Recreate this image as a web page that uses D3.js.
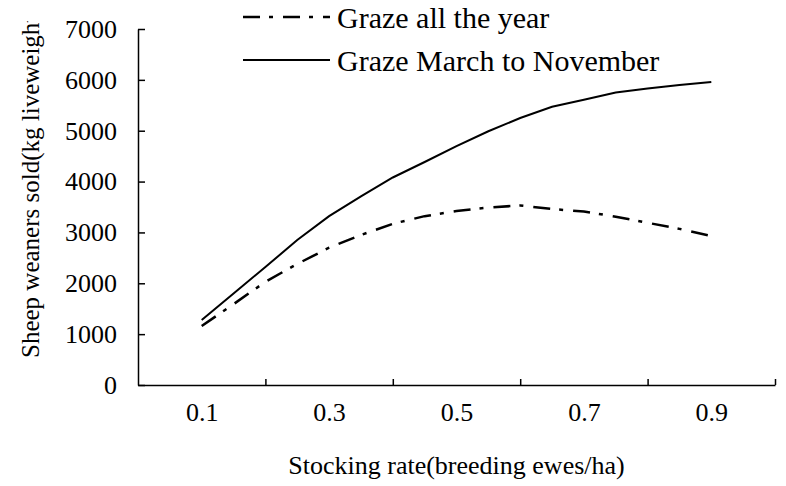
<!DOCTYPE html>
<html lang="en">
<head>
<meta charset="UTF-8">
<title>Sheep weaners sold</title>
<script src="https://cdn.jsdelivr.net/npm/d3@7"></script>
<style>
	body {
		margin: 0;
		background-color: #ffffff;
	}
	svg text {
		font-family: "Liberation Serif", "Times New Roman", serif;
		fill: #000;
	}
	.axis path, .axis line {
		stroke: #000;
		stroke-width: 1.5;
	}
</style>
</head>
<body>
<div id="chart"></div>
<script>
	// stocking rate (breeding ewes/ha)
	var rates = [0.1, 0.15, 0.2, 0.25, 0.3, 0.35, 0.4, 0.45, 0.5, 0.55, 0.6, 0.65, 0.7, 0.75, 0.8, 0.85, 0.9];
	// kg liveweight sold
	var grazeAllYear = [1160, 1590, 2030, 2380, 2700, 2950, 3170, 3320, 3420, 3490, 3530, 3460, 3410, 3310, 3190, 3070, 2930];
	var grazeMarNov = [1280, 1800, 2320, 2850, 3320, 3710, 4080, 4385, 4695, 4990, 5250, 5470, 5610, 5750, 5830, 5900, 5960];

	var seriesNames = ['Graze all the year', 'Graze March to November'];
	var xLabels = [0.1, 0.3, 0.5, 0.7, 0.9];
	var xTicks = [0.2, 0.4, 0.6, 0.8, 1.0];
	var yTicks = [0, 1000, 2000, 3000, 4000, 5000, 6000, 7000];

	var W = 786, H = 486;
	var margin = {top: 29, right: 11, bottom: 101, left: 138};

	var svg = d3.select('#chart').append('svg')
		.attr('width', W)
		.attr('height', H);

	var x = d3.scaleLinear()
		.domain([0, 1])
		.range([margin.left, W - margin.right]);

	var y = d3.scaleLinear()
		.domain([0, 7000])
		.range([H - margin.bottom, margin.top]);

	// y axis, ticks pointing inside
	svg.append('g')
		.attr('class', 'axis')
		.attr('transform', 'translate(' + margin.left + ',0)')
		.call(d3.axisLeft(y)
			.tickValues(yTicks)
			.tickSizeInner(-7)
			.tickSizeOuter(0)
			.tickPadding(21)
			.tickFormat(d3.format('d')))
		.selectAll('text')
		.style('font-size', '26px');

	// x axis line + inner ticks
	svg.append('g')
		.attr('class', 'axis')
		.attr('transform', 'translate(0,' + (H - margin.bottom) + ')')
		.call(d3.axisBottom(x)
			.tickValues(xTicks)
			.tickSizeInner(-6)
			.tickSizeOuter(0)
			.tickFormat(''));

	// x labels sit between the tick marks
	var xl = svg.append('g')
		.attr('class', 'axis')
		.attr('transform', 'translate(0,' + (H - margin.bottom) + ')')
		.call(d3.axisBottom(x)
			.tickValues(xLabels)
			.tickSize(0)
			.tickPadding(18)
			.tickFormat(d3.format('.1f')));
	xl.select('.domain').remove();
	xl.selectAll('text').style('font-size', '26px');

	// axis titles
	svg.append('text')
		.attr('x', (x.range()[0] + x.range()[1]) / 2)
		.attr('y', 474)
		.attr('text-anchor', 'middle')
		.style('font-size', '26px')
		.text('Stocking rate(breeding ewes/ha)');

	svg.append('clipPath')
		.attr('id', 'ytitle-clip')
		.append('rect')
		.attr('x', 0)
		.attr('y', 21)
		.attr('width', 70)
		.attr('height', H - 21);

	svg.append('g')
		.attr('clip-path', 'url(#ytitle-clip)')
		.append('text')
		.attr('transform', 'translate(39,358) rotate(-90)')
		.attr('text-anchor', 'start')
		.style('font-size', '25px')
		.text('Sheep weaners sold(kg liveweight)');

	// lines
	var line = d3.line()
		.x(function (d) { return x(d[0]); })
		.y(function (d) { return y(d[1]); });

	var dashStyle = '17,9,4,10';

	svg.append('path')
		.datum(d3.zip(rates, grazeAllYear))
		.attr('d', line)
		.attr('fill', 'none')
		.attr('stroke', '#000')
		.attr('stroke-width', 2.5)
		.attr('stroke-dasharray', dashStyle);

	svg.append('path')
		.datum(d3.zip(rates, grazeMarNov))
		.attr('d', line)
		.attr('fill', 'none')
		.attr('stroke', '#000')
		.attr('stroke-width', 2);

	// legend
	var legendY = [17, 60];
	var legend = svg.selectAll('.legend')
		.data(seriesNames)
		.enter().append('g')
		.attr('class', 'legend')
		.attr('transform', function (d, i) {
			return 'translate(243,' + legendY[i] + ')';
		});

	legend.append('line')
		.attr('x1', 0)
		.attr('x2', 87)
		.attr('stroke', '#000')
		.attr('stroke-width', function (d, i) { return i === 0 ? 2.5 : 2; })
		.attr('stroke-dasharray', function (d, i) { return i === 0 ? dashStyle : null; });

	legend.append('text')
		.attr('x', 94)
		.attr('dy', '0.35em')
		.style('font-size', '30px')
		.text(function (d) { return d; });
</script>
</body>
</html>
